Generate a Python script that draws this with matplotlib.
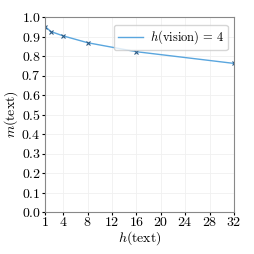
import matplotlib
matplotlib.use("Agg")
import matplotlib.pyplot as plt

plt.rcParams['font.family'] = 'serif'
plt.rcParams['font.serif'] = ['cmr10']
plt.rcParams['mathtext.fontset'] = 'cm'
plt.rcParams['axes.formatter.use_mathtext'] = True

# data
h_text = [1, 2, 4, 8, 16, 32]
m_text = [0.951, 0.925, 0.903, 0.868, 0.822, 0.762]
xticks = [1, 4, 8, 12, 16, 20, 24, 28, 32]
yticks = [0.0, 0.1, 0.2, 0.3, 0.4, 0.5, 0.6, 0.7, 0.8, 0.9, 1.0]

fig = plt.figure(figsize=(2.54, 2.54), dpi=100)
ax = fig.add_axes([45/254, 42/254, 189/254, 195/254])

ax.plot(h_text, m_text, color='#5aa6de', linewidth=1.0, label=r'$h(\mathrm{vision})\,=\,4$')
ax.plot(h_text, m_text, 'x', color='#2b5a85', markersize=2.5, markeredgewidth=0.8)

ax.set_xlim(1, 32)
ax.set_ylim(0, 1.0)
ax.set_xticks(xticks)
ax.set_xticklabels([f'${t}$' for t in xticks])
ax.set_yticks(yticks)
ax.set_yticklabels([f'${t:.1f}$' for t in yticks])
ax.tick_params(labelsize=10, length=2, pad=1)
ax.grid(True, color='#f0f0f0', linewidth=0.6)
for s in ax.spines.values():
    s.set_color('#888888')
ax.set_xlabel(r'$h(\mathrm{text})$', fontsize=10, labelpad=0)
ax.set_ylabel(r'$m(\mathrm{text})$', fontsize=10, labelpad=1)
ax.legend(loc='upper right', bbox_to_anchor=(0.968, 0.96), borderaxespad=0,
          fontsize=9, handlelength=2.0, handletextpad=0.6, borderpad=0.3,
          framealpha=0.8)

fig.savefig('out.png', dpi=100)
